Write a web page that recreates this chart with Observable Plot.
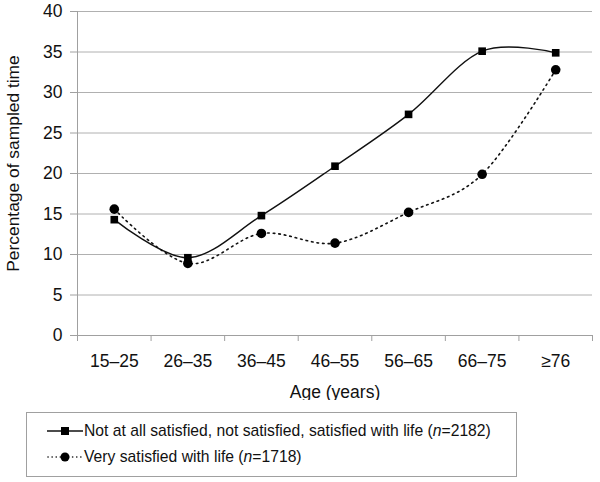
<!DOCTYPE html>
<html><head><meta charset="utf-8">
<script src="https://cdn.jsdelivr.net/npm/d3@7"></script>
<script src="https://cdn.jsdelivr.net/npm/@observablehq/plot@0.6"></script>
<style>
body{margin:0;background:#fff;font-family:"Liberation Sans",Arial,sans-serif;}
#wrap{position:relative;width:600px;height:482px;}
#legend{position:absolute;left:26px;top:412px;width:491px;height:65px;border:1px solid #a0a0a0;box-sizing:border-box;font-size:15.7px;color:#111;}
.row{position:absolute;left:20px;display:flex;align-items:center;white-space:nowrap;}
.row svg{margin-right:1px;}
</style></head>
<body><div id="wrap"><div id="chart"></div><div id="legend"></div></div>
<script>
const ages = ["15–25","26–35","36–45","46–55","56–65","66–75","≥76"];
const notSatisfied = [14.3, 9.6, 14.8, 20.9, 27.3, 35.1, 34.9];
const verySatisfied = [15.6, 8.9, 12.6, 11.4, 15.2, 19.9, 32.8];
const seriesNames = ["Not at all satisfied, not satisfied, satisfied with life", "Very satisfied with life"];
const seriesN = [2182, 1718];
const yTicks = [0,5,10,15,20,25,30,35,40];

const idx = ages.map((_, i) => i);
const dataA = idx.map(i => ({i, v: notSatisfied[i]}));
const dataB = idx.map(i => ({i, v: verySatisfied[i]}));
const bounds = d3.range(-0.5, ages.length, 1);
const curve = d3.curveCardinal.tension(0);

const plot = Plot.plot({
  width: 600, height: 400,
  marginLeft: 77, marginRight: 8, marginTop: 11, marginBottom: 65,
  style: {fontFamily: '"Liberation Sans", Arial, sans-serif', fontSize: "17.5px", color: "#111", background: "#fff"},
  x: {domain: [-0.5, ages.length - 0.5], axis: null},
  y: {domain: [0, 40], axis: null},
  marks: [
    Plot.gridY(yTicks.filter(t => t > 0), {stroke: "#b0b0b0", strokeOpacity: 1, strokeWidth: 1}),
    Plot.ruleY([0], {stroke: "#a0a0a0"}),
    Plot.ruleX([-0.5], {stroke: "#a0a0a0"}),
    Plot.axisY({ticks: yTicks, tickSize: 7, tickPadding: 8, stroke: "#a0a0a0", label: null, fontSize: 17.5}),
    Plot.axisX({ticks: bounds, tickSize: 6, tickFormat: () => "", stroke: "#a0a0a0", label: null}),
    Plot.axisX({ticks: idx, tickSize: 0, tickPadding: 19, tickFormat: i => ages[i], label: null, fontSize: 17.5}),
    Plot.text(["Age (years)"], {frameAnchor: "bottom", dy: 62, fontSize: 17.5}),
    Plot.text(["Percentage of sampled time"], {frameAnchor: "left", textAnchor: "middle", dx: -64, dy: -10, rotate: -90, fontSize: 17.4}),
    Plot.line(dataB, {x: "i", y: "v", curve, stroke: "#111", strokeWidth: 1.6, strokeDasharray: "1.6,4", strokeLinecap: "round"}),
    Plot.line(dataA, {x: "i", y: "v", curve, stroke: "#111", strokeWidth: 1.4}),
    Plot.dot(dataB, {x: "i", y: "v", r: 4.8, fill: "#000", stroke: "none"}),
    Plot.dot(dataA, {x: "i", y: "v", r: 4.3, symbol: "square", fill: "#000", stroke: "none"})
  ]
});
document.getElementById("chart").appendChild(plot);

const legend = document.getElementById("legend");
const icons = [
  `<svg width="36" height="12"><line x1="0" y1="6" x2="36" y2="6" stroke="#111" stroke-width="1.4"/><rect x="14" y="2" width="8" height="8" fill="#000"/></svg>`,
  `<svg width="36" height="12"><line x1="1" y1="6" x2="36" y2="6" stroke="#111" stroke-width="1.6" stroke-dasharray="0.1,4" stroke-linecap="round"/><circle cx="18" cy="6" r="4.5" fill="#000"/></svg>`
];
seriesNames.forEach((name, k) => {
  const row = document.createElement("div");
  row.className = "row";
  row.style.top = (k === 0 ? 9 : 35) + "px";
  row.innerHTML = icons[k] + `<span>${name} (<i>n</i>=${seriesN[k]})</span>`;
  legend.appendChild(row);
});
</script></body></html>
